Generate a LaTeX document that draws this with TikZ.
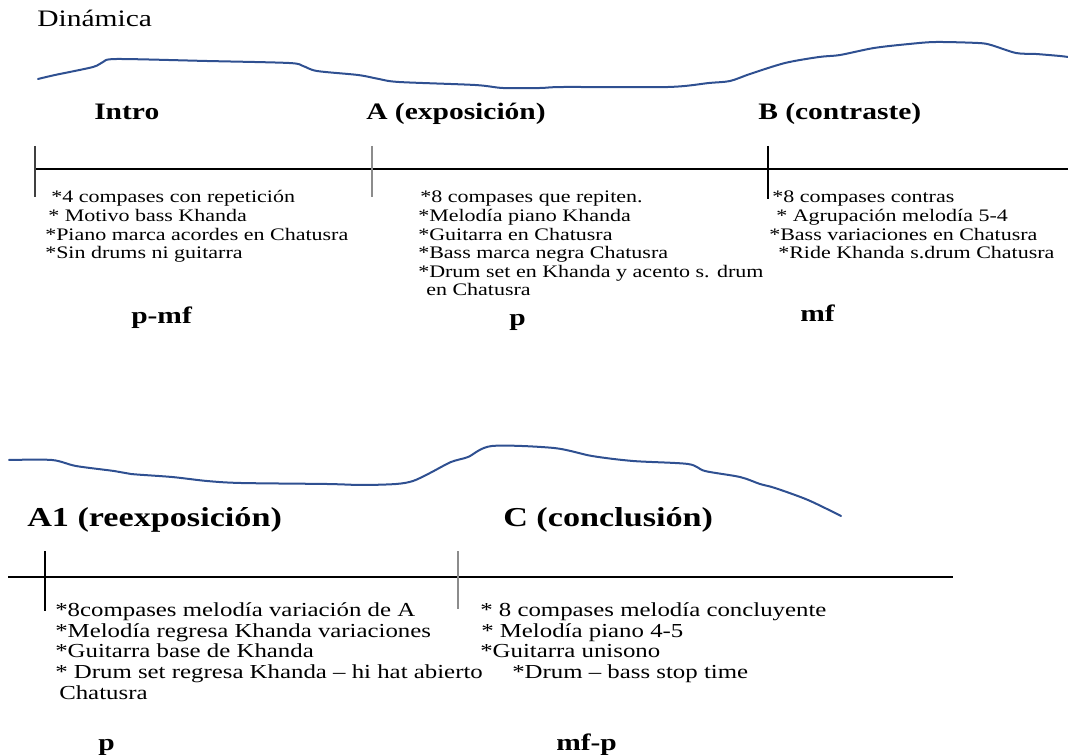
\documentclass[tikz,border=0pt]{standalone}
\usepackage{fontspec}
\setmainfont[FakeStretch=1.25]{Liberation Serif}
\definecolor{tinta}{RGB}{47,80,145}

\begin{document}
\begin{tikzpicture}[x=0.75pt,y=-0.75pt,
  curva/.style={draw=tinta,line width=1.5pt,line join=round,line cap=round},
  eje/.style={line width=1pt},
  marca/.style={line width=1.1pt},
  titulo/.style={font=\fontsize{17.7}{20}\selectfont\bfseries,inner sep=0pt,anchor=base west},
  tituloB/.style={font=\fontsize{20.5}{23}\selectfont\bfseries,inner sep=0pt,anchor=base west},
  lista/.style={font=\fontsize{13.2}{14}\selectfont,inner sep=0pt,anchor=base west},
  listaB/.style={font=\fontsize{14.9}{16}\selectfont,inner sep=0pt,anchor=base west}]
\useasboundingbox (0,0) rectangle (1068,755);

% parte superior
\node[font=\fontsize{17.7}{20}\selectfont,inner sep=0pt,anchor=base west] (dinamica) at (37,27) {Dinámica};
\draw[curva] plot[smooth,tension=0.5] coordinates {(38,79) (55,75) (93,67) (103,62) (117,59) (207,61) (289,63) (303,66) (317,71) (358,75) (379,79) (399,82) (475,85) (503,88) (540,88) (564,87) (668,87) (709,83) (730,81) (750,74) (785,63) (819,57) (840,55) (874,48) (909,44) (936,42) (978,43) (991,45) (1016,53) (1036,54) (1060,56) (1068,57)};

\node[titulo] (intro) at (94,120) {Intro};
\node[titulo] (expo) at (366,120) {A (exposición)};
\node[titulo] (contra) at (758,120) {B (contraste)};

\draw[eje] (35,169)--(1068,169);
\draw[marca,color=black!75] (35,146)--(35,197);
\draw[marca,color=black!45] (372,146)--(372,197);
\draw[marca] (768,146)--(768,199);

\node[lista] (i1) at (51,203) {*4 compases con repetición};
\node[lista] (i2) at (48,221.6) {* Motivo bass Khanda};
\node[lista] (i3) at (45,240.2) {*Piano marca acordes en Chatusra};
\node[lista] (i4) at (45,258.8) {*Sin drums ni guitarra};

\node[lista] (a1) at (420,203) {*8 compases que repiten.};
\node[lista] (a2) at (418,221.6) {*Melodía piano Khanda};
\node[lista] (a3) at (418,240.2) {*Guitarra en Chatusra};
\node[lista] (a4) at (418,258.8) {*Bass marca negra Chatusra};
\node[lista] (a5) at (418,277.4) {*Drum set en Khanda y acento s. drum};
\node[lista] (a6) at (426,296) {en Chatusra};

\node[lista] (b1) at (772,203) {*8 compases contras};
\node[lista] (b2) at (776,221.6) {* Agrupación melodía 5-4};
\node[lista] (b3) at (769,240.2) {*Bass variaciones en Chatusra};
\node[lista] (b4) at (778,258.8) {*Ride Khanda s.drum Chatusra};

\node[titulo] (dinI) at (131,324) {p-mf};
\node[titulo] (dinA) at (509,326) {p};
\node[titulo] (dinB) at (800,322) {mf};

% parte inferior
\draw[curva] plot[smooth,tension=0.5] coordinates {(9,460) (52,460) (76,466) (114,471) (131,474) (172,477) (207,481) (241,483) (327,484) (362,485) (396,484) (413,481) (430,473) (451,462) (468,457) (492,446) (554,448) (592,456) (633,461) (688,464) (705,471) (740,477) (760,484) (775,488) (808,500) (841,516)};

\node[tituloB] (reexpo) at (27,527) {A1 (reexposición)};
\node[tituloB] (concl) at (503,527) {C (conclusión)};

\draw[eje] (8,577)--(953,577);
\draw[marca] (45,551)--(45,611);
\draw[marca,color=black!45] (458,551)--(458,609);

\node[listaB] (r1) at (55,616.4) {*8compases melodía variación de A};
\node[listaB] (r2) at (55,637.1) {*Melodía regresa Khanda variaciones};
\node[listaB] (r3) at (55,657.8) {*Guitarra base de Khanda};
\node[listaB] (r4) at (55,678.5) {* Drum set regresa Khanda – hi hat abierto};
\node[listaB] (r5) at (59,699.2) {Chatusra};

\node[listaB] (c1) at (480,616.4) {* 8 compases melodía concluyente};
\node[listaB] (c2) at (481,637.1) {* Melodía piano 4-5};
\node[listaB] (c3) at (480,657.8) {*Guitarra unisono};
\node[listaB] (c4) at (512,678.5) {*Drum – bass stop time};

\node[titulo] (dinR) at (98,750) {p};
\node[titulo] (dinC) at (556,750) {mf-p};
\end{tikzpicture}
\end{document}
